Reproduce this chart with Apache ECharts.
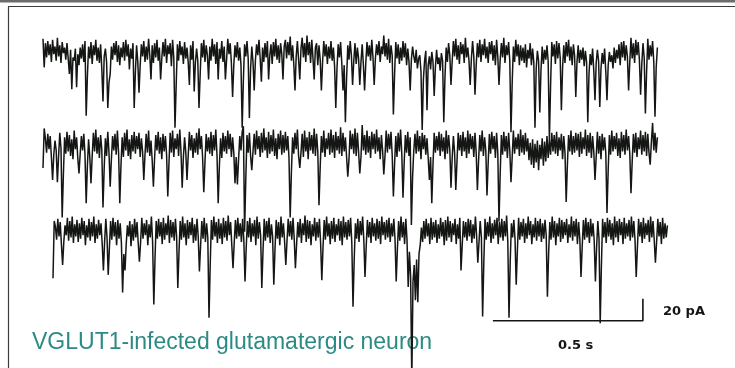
<!DOCTYPE html>
<html>
<head>
<meta charset="utf-8">
<script src="https://cdn.jsdelivr.net/npm/echarts@6/dist/echarts.min.js"></script>
<style>
  html, body { margin: 0; padding: 0; background: #ffffff; }
  #chart { width: 735px; height: 368px; }
</style>
</head>
<body>
<div id="chart"></div>
<script>
// Spontaneous EPSCs, three consecutive sweeps (current in pA relative to holding level)
const SAMPLE_INTERVAL_S = 0.004;

const sweep1 = [
  12,-14,8,-5,10,-3,7,-9,11,-2,5,-8,13,-4,6,-10,9,-1,4,-7,
  8,-6,-20,2,-34,-5,-8,3,-32,-2,-12,4,-6,7,-9,10,-58,-22,5,-6,
  9,-11,6,-3,11,-8,4,-10,7,-15,-45,-4,3,-9,-51,-28,-20,5,-7,8,
  -3,10,-9,6,-12,4,-5,9,-8,11,-4,7,-16,3,-6,8,-51,-18,6,-9,
  -37,-12,7,-4,10,-9,5,-7,12,-3,-25,6,-10,8,-5,11,-8,4,-25,-6,
  9,-4,12,-10,6,-2,8,-13,11,-5,-69,-30,7,-8,10,-3,5,-11,9,-6,
  4,-9,-30,6,-7,10,-36,-10,3,-8,-51,-20,8,-5,11,-9,6,-3,-25,5,
  -8,12,-4,7,-11,9,-25,3,-6,10,-9,5,-25,-7,12,-2,8,-10,-41,-12,
  6,-5,9,-8,4,-12,-69,-25,7,-4,10,-6,-60,-15,5,-9,-35,-8,7,-3,
  11,-6,-27,4,-9,8,-5,10,-25,-3,7,-11,9,-4,12,-7,6,-10,8,-2,
  -25,5,11,-6,9,-3,14,-8,6,-11,-35,-4,10,-7,-25,3,13,-5,8,-9,
  15,-3,9,-10,11,-6,-25,4,8,-12,6,-7,-35,-9,10,-4,7,-11,5,-6,
  10,-8,4,-13,-51,-15,7,-5,9,-10,-35,-12,-64,-24,6,-7,10,-3,-30,-8,
  8,-11,4,-6,-30,-9,7,-12,-35,-10,9,-4,6,-8,11,-5,-30,-6,7,-3,
  10,-9,5,-2,15,-4,8,-7,12,-10,6,-3,-57,-20,9,-6,7,-11,4,-8,
  10,-5,8,-12,3,-9,-35,-7,5,-4,-10,2,-15,-6,-3,-18,-71,-25,-8,1,
  -53,-12,-4,-16,0,-9,-40,-14,2,-11,-5,-17,-1,-8,-64,-22,4,-9,8,-3,
  -30,-8,10,-4,12,-7,6,-11,9,-2,7,-10,13,-5,4,-8,-30,-6,10,-4,
  -39,-12,8,-5,11,-9,7,-3,12,-6,5,-10,9,-2,10,-8,6,-12,11,-4,
  -30,-7,8,-5,13,-10,6,-3,9,-8,-73,-28,5,-9,11,-4,7,-12,6,-8,
  4,-10,7,-14,2,-6,8,-12,3,-9,-69,-15,1,-8,-55,-16,5,-11,2,-7,
  6,-9,-80,-30,9,-4,7,-11,10,-6,8,-5,-53,-14,6,-10,9,-4,11,-8,
  5,-12,7,-3,-41,-9,6,-10,2,-7,4,-13,1,-9,-64,-20,-2,-12,3,-17,
  -44,-10,2,-8,-50,-15,-1,-11,3,-18,-44,-12,0,-9,-3,-15,4,-10,2,-6,
  7,-12,9,-5,10,-8,6,-4,-35,-9,13,-6,8,-10,11,-3,9,-7,-39,-11,
  8,-5,-56,-18,12,-7,6,-4,10,-9,-59,-14,4
];

const sweep2 = [
  -20,16,7,-6,11,-3,9,-10,-31,-8,5,-4,-33,-9,12,-2,-65,-26,8,-7,
  13,-5,10,-9,6,-12,14,-3,8,-11,-25,-7,9,-4,11,-8,-52,-18,6,-10,
  -34,-9,12,-5,15,-7,8,-11,10,-3,-56,-20,7,-9,13,-6,-37,-12,9,-4,
  11,-8,14,-6,-52,-17,8,-10,12,-4,15,-9,6,-12,10,-5,13,-7,9,-3,
  12,-10,7,-5,-31,-8,11,-6,14,-9,5,-13,-37,-11,10,-4,13,-7,8,-12,
  11,-5,9,-8,-46,-15,12,-6,14,-10,7,-3,11,-9,15,-5,-38,-10,8,-6,
  -31,-9,13,-4,10,-11,7,-6,12,-8,16,-3,9,-10,-42,-14,11,-5,8,-7,
  13,-9,10,-4,15,-8,-52,-18,7,-11,12,-5,9,-7,14,-3,11,-10,8,-6,
  -34,-10,-35,-12,9,-4,13,18,-78,-30,10,-6,12,-9,-22,-5,11,-8,14,-3,
  9,-10,12,-6,16,-4,8,-11,13,-7,10,-5,15,-9,7,-12,11,-3,14,-8,
  10,-6,13,-4,9,-11,-65,-24,8,-7,12,-3,15,-9,-20,-6,11,-10,14,-5,
  8,-12,13,-4,10,-7,16,-9,11,-5,-54,-19,9,-6,14,-10,7,-3,12,-8,
  15,-6,10,-11,13,-4,9,-7,17,-9,12,-5,8,-10,-28,-12,14,-3,11,-7,
  16,-9,12,-5,-25,-10,19,-4,10,-8,14,-6,9,-11,13,-3,11,-7,15,-5,
  8,-12,10,-4,-26,-9,14,-6,11,-3,13,-8,-46,-16,9,-10,12,-5,15,-7,
  -47,-15,10,-6,13,-9,8,-72,-28,-4,11,-7,14,-5,9,-12,12,-3,10,-8,
  7,-11,-31,-10,-52,-17,12,-6,9,-4,13,-9,11,-5,8,-12,14,-7,10,-3,
  -38,-11,9,-6,-40,-14,12,-4,10,-9,13,-5,8,-11,14,-7,11,-3,9,-10,
  12,-6,-40,-13,10,-5,14,-9,8,-4,-45,-15,11,-7,13,-3,9,-11,12,-6,
  -69,-25,10,-8,13,-5,9,-11,12,-4,-33,-10,14,-7,8,-3,11,-9,15,-6,
  10,-8,12,-5,7,-13,3,-17,6,-20,2,-15,5,-22,1,-12,7,-18,4,-14,
  9,-11,6,-8,12,-5,10,-7,13,-9,8,-4,11,-12,9,-6,-51,-17,10,-5,
  14,-8,9,-6,12,-4,11,-10,13,-7,8,-3,15,-9,10,-6,12,-11,9,-5,
  -31,-10,13,-7,9,-12,11,-4,8,-6,-61,-22,10,-8,14,-5,9,-3,12,-9,
  7,-11,13,-5,10,-8,15,-4,9,-7,-43,-14,11,-6,12,-10,8,-3,14,-8,
  10,-5,13,-9,11,-6,-17,4,21,-4,12,-6,8
];

const sweep3 = [
  -42,10,5,-7,12,-4,9,-11,-30,-9,6,-3,13,-8,10,-5,14,-10,7,-4,
  11,-9,8,-6,13,-3,10,-12,6,-5,12,-8,9,-4,14,-10,7,-6,11,-3,
  8,-11,-35,-9,12,-5,-39,-14,10,-7,13,-4,9,-12,11,-6,8,-10,-55,-20,
  -35,-11,6,-4,10,-13,7,-8,12,-5,9,-10,-27,-9,13,-6,8,-3,11,-12,
  7,-5,14,-9,-66,-24,10,-6,12,-4,9,-11,13,-7,8,-3,15,-10,11,-5,
  9,-8,12,-4,-51,-18,10,-7,14,-5,8,-12,11,-6,9,-3,13,-10,7,-8,
  12,-4,-36,-12,10,-6,13,-9,8,-5,-78,-30,11,-7,14,-4,9,-10,12,-6,
  8,-11,13,-5,10,-8,15,-3,9,-12,-33,-10,11,-6,13,-4,8,-9,12,-7,
  -45,-14,10,-5,13,-9,8,-4,11,-12,14,-6,9,-3,-51,-17,12,-8,10,-5,
  13,-10,7,-4,-48,-15,11,-6,9,-12,14,-5,8,-9,-30,-8,12,-4,10,-7,
  13,-6,-33,-11,9,-5,12,-10,8,-3,15,-9,11,-6,10,-12,7,-4,13,-8,
  9,-5,12,-10,-44,-14,11,-7,14,-4,8,-11,10,-6,13,-9,7,-3,12,-8,
  10,-12,14,-5,9,-7,11,-4,13,-10,-68,-25,8,-6,12,-9,10,-3,14,-7,
  -41,-13,11,-5,9,-10,13,-4,8,-8,12,-6,10,-11,14,-3,9,-7,11,-5,
  13,-9,8,-4,12,-6,-45,-15,10,-8,14,-5,9,-11,12,-7,-50,-18,-40,-135,
  -45,-30,-62,-25,-64,-20,-12,4,-9,10,-6,12,-4,8,-11,13,-7,9,-5,11,
  -10,7,-6,13,-4,9,-12,11,-8,14,-5,10,-9,8,-3,12,-11,7,-6,13,
  -35,-12,10,-5,9,-8,12,-4,11,-10,7,-6,14,-3,-28,-9,10,-5,-77,-28,
  12,-7,9,-4,14,-10,8,-6,11,-3,13,-11,9,-5,12,-8,10,-4,15,-9,
  -78,-27,8,-5,11,-6,-48,-16,13,-7,9,-4,12,-10,8,-6,14,-3,10,-11,
  7,-5,13,-8,10,-4,12,-9,8,-6,11,-3,-59,-20,9,-7,14,-5,10,-12,
  8,-4,13,-9,11,-6,9,-3,12,-10,7,-5,14,-8,10,-4,12,-11,9,-6,
  -41,-13,11,-7,13,-5,9,-10,12,-4,8,-8,-45,-14,10,-6,-83,-30,12,-5,
  9,-10,13,-4,11,-7,8,-12,14,-5,10,-9,12,-3,9,-11,13,-6,8,-4,
  11,-8,14,-5,10,-7,-41,-14,12,-4,9,-10,13,-6,8,-3,11,-9,14,-5,
  10,-7,-28,-9,12,-4,9,-11,13,-6,8,-5,6
];

const scaleBarTime = 0.5;     // s
const scaleBarCurrent = 20;   // pA
const scaleLabels = ['20 pA', '0.5 s'];
const cellLabel = 'VGLUT1-infected glutamatergic neuron';

// Where each sweep sits on the shared time / current axes
const sweepLayout = [
  { start: 0.1433, offset: -47.3 },
  { start: 0.1433, offset: -132.9 },
  { start: 0.1767, offset: -211.2 }
];
const scaleBarCorner = { t: 2.143, i: -292 };

const traceColor = '#141614';

function toPoints(values, layout) {
  return values.map((v, k) => [layout.start + k * SAMPLE_INTERVAL_S, layout.offset + v]);
}

const sweeps = [sweep1, sweep2, sweep3];

const series = sweeps.map((values, n) => ({
  type: 'line',
  name: 'sweep ' + (n + 1),
  data: toPoints(values, sweepLayout[n]),
  symbol: 'none',
  showSymbol: false,
  smooth: false,
  animation: false,
  silent: true,
  lineStyle: { color: traceColor, width: 1.5 }
}));

// L-shaped scale bar
series.push({
  type: 'line',
  name: 'scale',
  data: [
    [scaleBarCorner.t - scaleBarTime, scaleBarCorner.i],
    [scaleBarCorner.t, scaleBarCorner.i],
    [scaleBarCorner.t, scaleBarCorner.i + scaleBarCurrent]
  ],
  symbol: 'none',
  animation: false,
  silent: true,
  lineStyle: { color: '#151515', width: 1.6 }
});

const chart = echarts.init(document.getElementById('chart'), null, { renderer: 'canvas' });

chart.setOption({
  animation: false,
  backgroundColor: '#ffffff',
  grid: { left: 0, right: 0, top: 0, bottom: 0 },
  xAxis: { type: 'value', min: 0, max: 2.45, show: false },
  yAxis: { type: 'value', min: -335, max: 0, show: false },
  graphic: [
    // panel frame
    { type: 'rect', shape: { x: 0, y: 0, width: 735, height: 2.5 }, style: { fill: '#6a6d6a' }, silent: true },
    { type: 'line', shape: { x1: 8, y1: 6.5, x2: 735, y2: 6.5 }, style: { stroke: '#3a3d3a', lineWidth: 1.2 }, silent: true },
    { type: 'line', shape: { x1: 8.5, y1: 6.5, x2: 8.5, y2: 368 }, style: { stroke: '#3a3d3a', lineWidth: 1.2 }, silent: true },
    {
      type: 'text', left: 32, top: 331, silent: true,
      style: { text: cellLabel, fill: '#2b8a83', font: '23px "Liberation Sans", Arial, sans-serif' }
    },
    {
      type: 'text', left: 663, top: 305, silent: true,
      style: { text: scaleLabels[0], fill: '#151515', font: 'bold 13px "DejaVu Sans", sans-serif' }
    },
    {
      type: 'text', left: 558, top: 339, silent: true,
      style: { text: scaleLabels[1], fill: '#151515', font: 'bold 13px "DejaVu Sans", sans-serif' }
    }
  ],
  series: series
});
</script>
</body>
</html>
